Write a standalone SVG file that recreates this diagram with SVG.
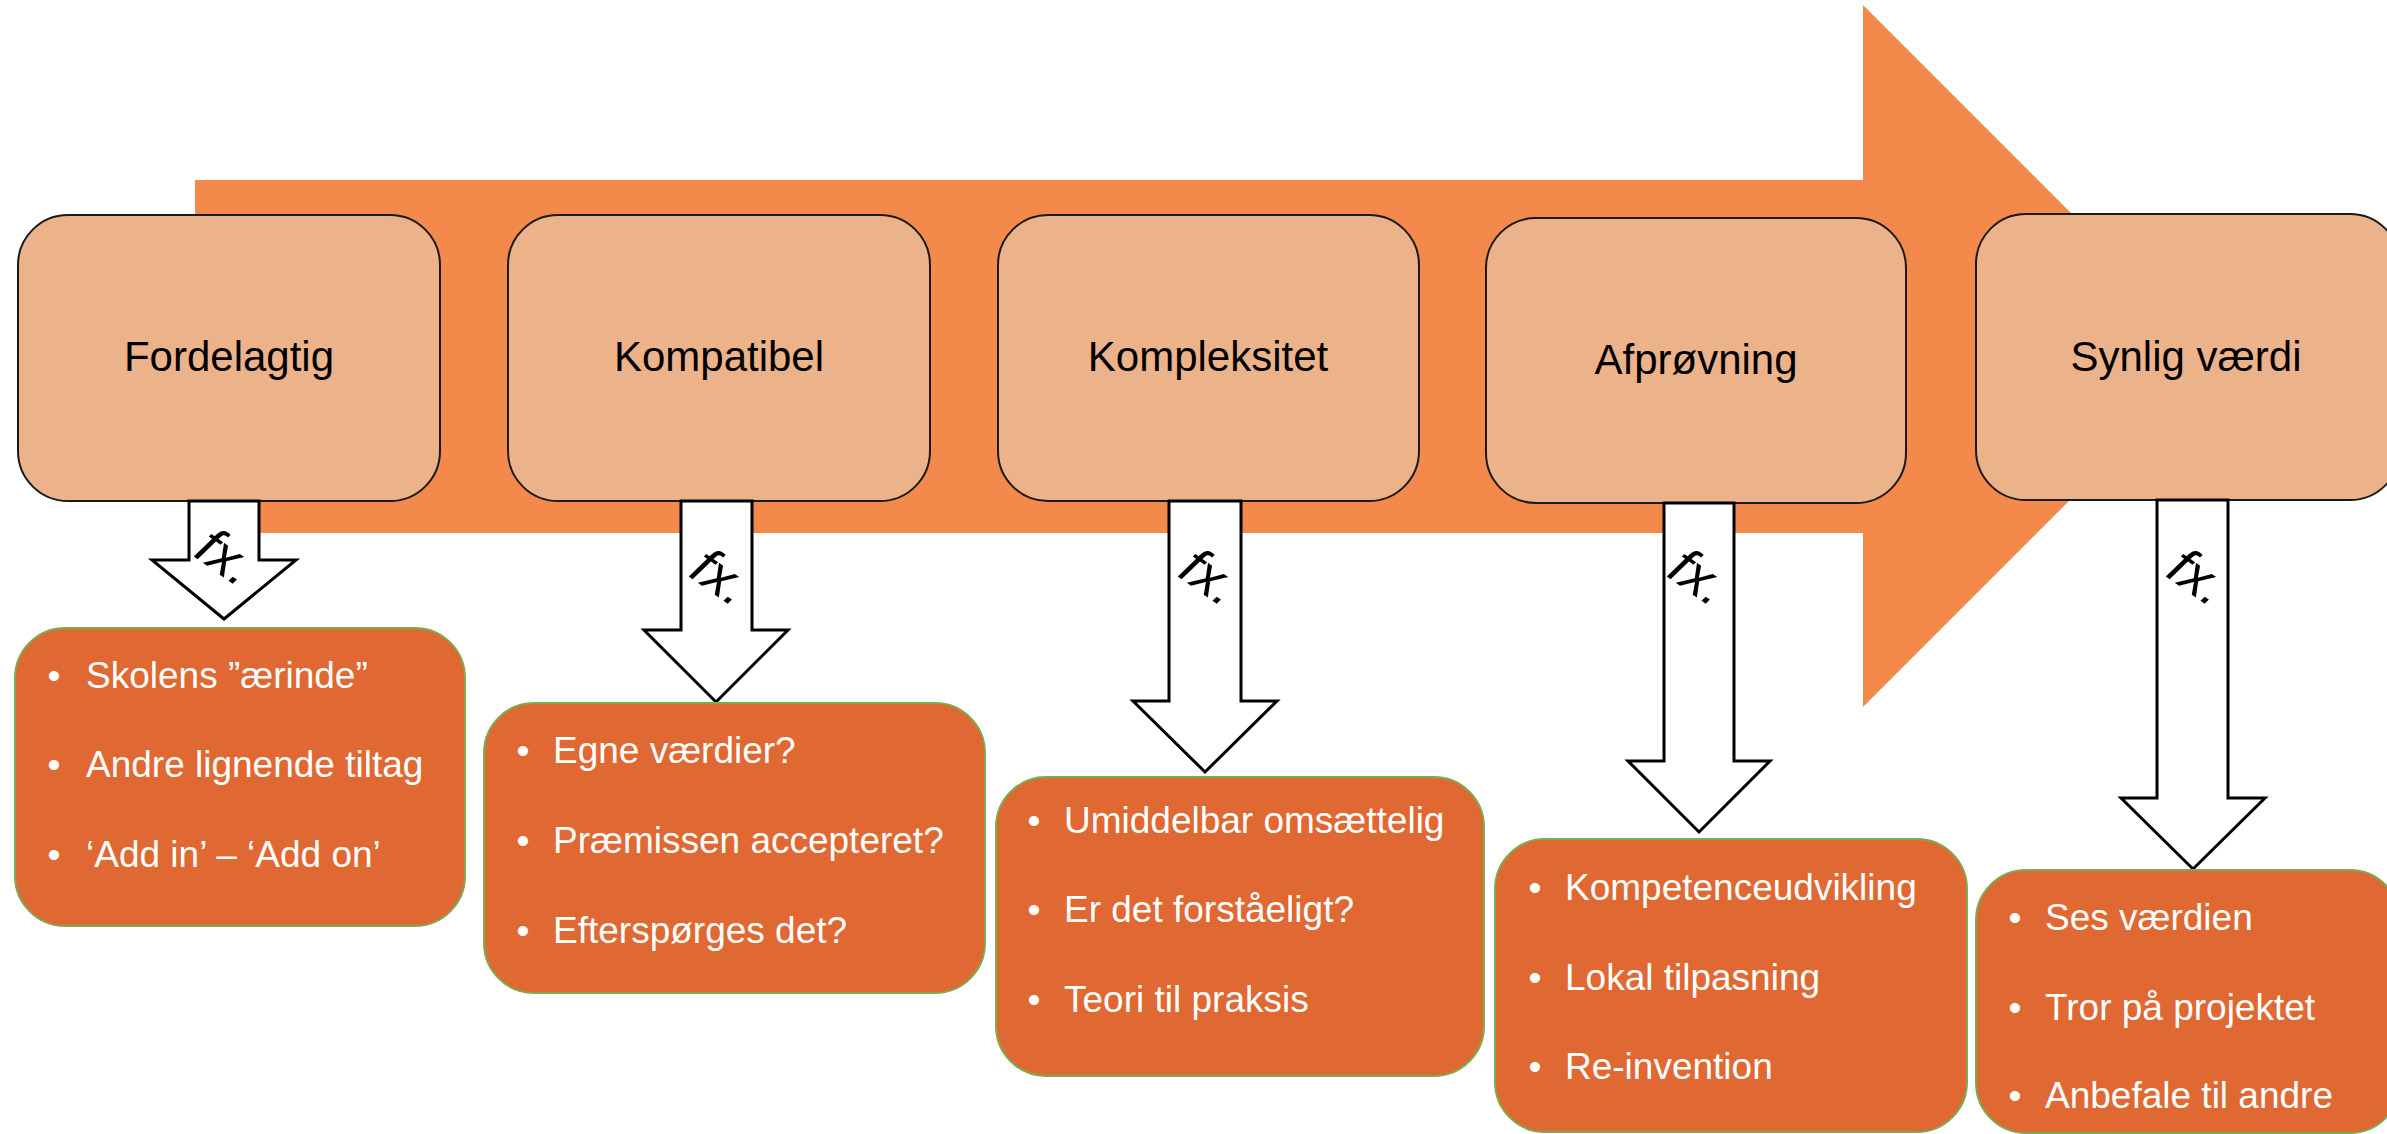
<svg xmlns="http://www.w3.org/2000/svg" width="2387" height="1134" viewBox="0 0 2387 1134">
<style>
.bg{fill:#F3894B}
.top rect{fill:#ECB28A;stroke:#1a1a1a;stroke-width:2}
.top text{font-family:"Liberation Sans",Arial,sans-serif;font-size:42px;fill:#000;text-anchor:middle}
.bot rect{fill:#E06832;stroke:#7EAA52;stroke-width:2}
.bot text{font-family:"Liberation Sans",Arial,sans-serif;font-size:37px;fill:#fff}
.bot .b{text-anchor:middle}
.arr polygon{fill:#fff;stroke:#000;stroke-width:3;stroke-linejoin:miter}
.fx{font-family:"Liberation Sans",Arial,sans-serif;font-size:54px;font-style:italic;fill:#000;text-anchor:middle}
</style>
<rect width="2387" height="1134" fill="#fff"/>
<polygon class="bg" points="195,180 1863,180 1863,5 2214,356 1863,707 1863,533 195,533"/>

<g id="n1" class="top"><rect x="18" y="215" width="422" height="286" rx="50"/><text x="229" y="371">Fordelagtig</text></g>
<g id="n2" class="top"><rect x="508" y="215" width="422" height="286" rx="50"/><text x="719" y="371">Kompatibel</text></g>
<g id="n3" class="top"><rect x="998" y="215" width="421" height="286" rx="50"/><text x="1208" y="371">Kompleksitet</text></g>
<g id="n4" class="top"><rect x="1486" y="218" width="420" height="285" rx="50"/><text x="1696" y="374">Afprøvning</text></g>
<g id="n5" class="top"><rect x="1976" y="214" width="424" height="286" rx="50"/><text x="2186" y="371">Synlig værdi</text></g>

<g id="connectors" class="arr">
<polygon points="189,501 259,501 259,560 296,560 224,619 152,560 189,560"/>
<polygon points="681,501 752,501 752,630 788,630 716,702 644,630 681,630"/>
<polygon points="1169,501 1241,501 1241,701 1277,701 1205,772 1133,701 1169,701"/>
<polygon points="1664,503 1734,503 1734,761 1770,761 1699,832 1628,761 1664,761"/>
<polygon points="2157,500 2228,500 2228,798 2265,798 2193,869 2121,798 2157,798"/>
<text class="fx" transform="translate(226,557) rotate(35)" y="18">fx.</text>
<text class="fx" transform="translate(721,577) rotate(35)" y="18">fx.</text>
<text class="fx" transform="translate(1210,577) rotate(35)" y="18">fx.</text>
<text class="fx" transform="translate(1699,577) rotate(35)" y="18">fx.</text>
<text class="fx" transform="translate(2198,577) rotate(35)" y="18">fx.</text>
</g>

<g id="b1" class="bot"><rect x="15" y="628" width="450" height="298" rx="50"/>
<text class="b" x="54" y="688">•</text><text x="86" y="688">Skolens ”ærinde”</text>
<text class="b" x="54" y="777">•</text><text x="86" y="777">Andre lignende tiltag</text>
<text class="b" x="54" y="867">•</text><text x="86" y="867">‘Add in’ – ‘Add on’</text></g>

<g id="b2" class="bot"><rect x="484" y="703" width="501" height="290" rx="50"/>
<text class="b" x="523" y="763">•</text><text x="553" y="763">Egne værdier?</text>
<text class="b" x="523" y="853">•</text><text x="553" y="853">Præmissen accepteret?</text>
<text class="b" x="523" y="943">•</text><text x="553" y="943">Efterspørges det?</text></g>

<g id="b3" class="bot"><rect x="996" y="777" width="488" height="299" rx="50"/>
<text class="b" x="1034" y="833">•</text><text x="1064" y="833">Umiddelbar omsættelig</text>
<text class="b" x="1034" y="922">•</text><text x="1064" y="922">Er det forståeligt?</text>
<text class="b" x="1034" y="1012">•</text><text x="1064" y="1012">Teori til praksis</text></g>

<g id="b4" class="bot"><rect x="1495" y="839" width="472" height="293" rx="50"/>
<text class="b" x="1535" y="900">•</text><text x="1565" y="900">Kompetenceudvikling</text>
<text class="b" x="1535" y="990">•</text><text x="1565" y="990">Lokal tilpasning</text>
<text class="b" x="1535" y="1079">•</text><text x="1565" y="1079">Re-invention</text></g>

<g id="b5" class="bot"><rect x="1976" y="870" width="424" height="263" rx="50"/>
<text class="b" x="2015" y="930">•</text><text x="2045" y="930">Ses værdien</text>
<text class="b" x="2015" y="1020">•</text><text x="2045" y="1020">Tror på projektet</text>
<text class="b" x="2015" y="1108">•</text><text x="2045" y="1108">Anbefale til andre</text></g>
</svg>
